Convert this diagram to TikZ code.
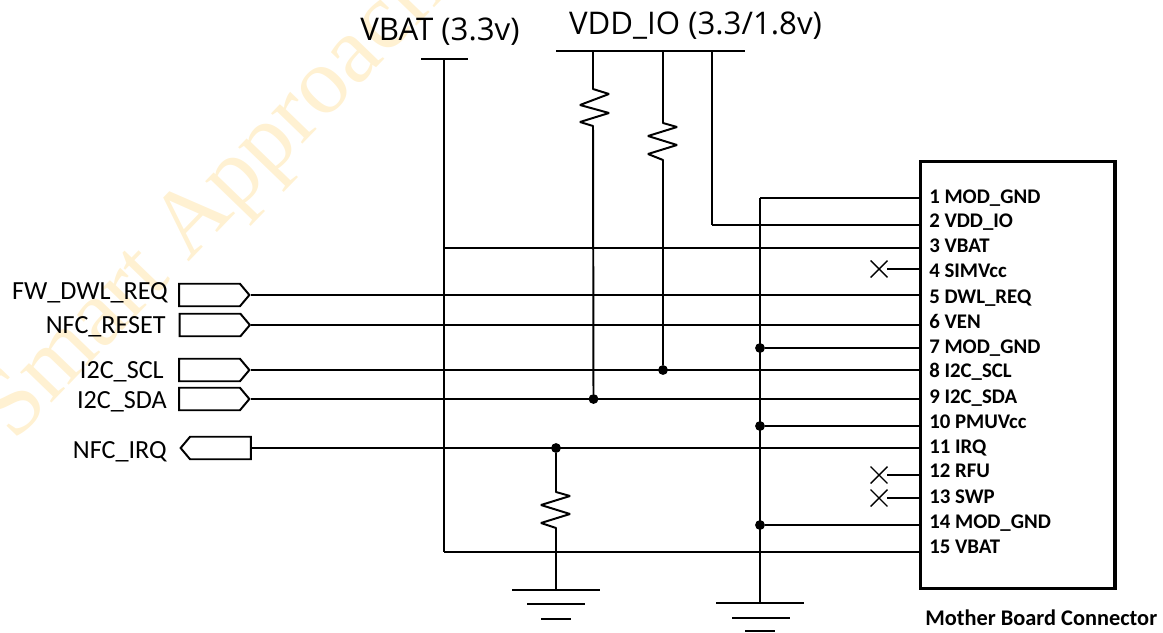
\documentclass[tikz,border=0pt]{standalone}
\usepackage{fontspec}
\setmainfont{Carlito}
\newfontfamily\railfont{Open Sans}
\newfontfamily\markfont{Liberation Serif}
\usetikzlibrary{shapes.symbols,shapes.misc}
\definecolor{markorange}{HTML}{FFF1D2}
\tikzset{
    wire/.style={line width=1.4pt},
    dot/.style={circle,fill=black,inner sep=0pt,minimum size=7pt},
    nc/.style={cross out,draw,line width=1pt,inner sep=0pt,minimum size=11pt},
    outsig/.style={signal,signal to=east,signal pointer angle=100,draw,line width=1.4pt,inner sep=0pt,minimum width=50pt,minimum height=16pt},
    insig/.style={outsig,signal to=west},
    siglabel/.style={anchor=east,font=\fontsize{18.6}{20}\selectfont},
    pinlabel/.style={anchor=base west,font=\fontsize{14.8}{16}\selectfont\bfseries},
    railbar/.style={line width=1.6pt},
    railname/.style={font=\railfont\fontsize{22.2}{25}\selectfont},
}
\begin{document}
\begin{tikzpicture}[x=0.025cm,y=-0.025cm]
    \useasboundingbox (0,0) rectangle (1163,632);
    \begin{scope}
        \clip (0,0) rectangle (1163,632);
        \node[rotate=46,anchor=base west,text=markorange,inner sep=0pt,font=\markfont\fontsize{67.5}{75}\selectfont] (watermark) at (14,443) {Smart Approach};
    \end{scope}

    \node[draw,line width=2.4pt,anchor=north west,inner sep=0pt,minimum width=138.5pt,minimum height=304pt] (conn) at (918.5,159.5) {};
    \node[anchor=west,font=\fontsize{15.9}{18}\selectfont\bfseries,inner sep=0pt] (connname) at (925,618) {Mother Board Connector};
    \foreach \n/\lab/\ty/\wy in {1/MOD\_GND/203/198,2/VDD\_IO/227/225,3/VBAT/252/248,4/SIMVcc/277/269,5/DWL\_REQ/303/295,6/VEN/328/325,7/MOD\_GND/353/348,8/I2C\_SCL/377/370,9/I2C\_SDA/403/399,10/PMUVcc/428/426,11/IRQ/453/448,12/RFU/477/475,13/SWP/503/498,14/MOD\_GND/528/525,15/VBAT/553/552} {
        \node[pinlabel,inner sep=0pt] (pin\n) at (929,\ty) {\n\ \lab};
        \coordinate (w\n) at (919,\wy);
    }

    \node[railname] (vbatname) at (440,32) {VBAT (3.3v)};
    \node[railname] (vddname) at (695.5,26) {VDD\_IO (3.3/1.8v)};
    \coordinate (vbatl) at (421,59);
    \coordinate (vbatr) at (468,59);
    \coordinate (vbattop) at (444,59);
    \coordinate (vbatbot) at (444,552);
    \coordinate (vddl) at (556,51);
    \coordinate (vddr) at (745,51);
    \coordinate (vddtop) at (712,51);
    \coordinate (vddbend) at (712,225);
    \path[railbar] (vbatl) edge (vbatr);
    \path[railbar] (vddl) edge (vddr);

    \node[outsig] (fwdwl) at (209.5,295) {};
    \node[outsig] (nfcreset) at (210,325) {};
    \node[outsig] (iicscl) at (209.5,370) {};
    \node[outsig] (iicsda) at (209.5,399) {};
    \node[insig] (nfcirq) at (220.5,448) {};
    \node[siglabel,inner sep=0pt] (fwdwlname) at (168,293) {FW\_DWL\_REQ};
    \node[siglabel,inner sep=0pt] (nfcresetname) at (166,327) {NFC\_RESET};
    \node[siglabel,inner sep=0pt] (iicsclname) at (164,372) {I2C\_SCL};
    \node[siglabel,inner sep=0pt] (iicsdaname) at (167,402) {I2C\_SDA};
    \node[siglabel,inner sep=0pt] (nfcirqname) at (167,452) {NFC\_IRQ};

    \node[dot] (jsda) at (593.5,399) {};
    \node[dot] (jscl) at (663,370) {};
    \node[dot] (jirq) at (556,448) {};
    \node[dot] (jgnd7) at (760,348) {};
    \node[dot] (jgnd10) at (760,426) {};
    \node[dot] (jgnd14) at (760,525) {};
    \node[nc] (nc4) at (879,269) {};
    \node[nc] (nc12) at (879,475) {};
    \node[nc] (nc13) at (879,498) {};

    \path[wire] (vbattop) edge (vbatbot);
    \path[wire] (vbattop |- w3) edge (w3);
    \path[wire] (vbatbot) edge (w15);
    \path[wire] (vddtop) edge (vddbend);
    \path[wire] (vddbend) edge (w2);
    \path[wire] (fwdwl.east) edge (w5);
    \path[wire] (nfcreset.east) edge (w6);
    \path[wire] (iicscl.east) edge (w8);
    \path[wire] (iicsda.east) edge (w9);
    \path[wire] (nfcirq.east) edge (w11);
    \path[wire] (nc4) edge (w4);
    \path[wire] (nc12) edge (w12);
    \path[wire] (nc13) edge (w13);

    \coordinate (gndtop) at (760,198);
    \coordinate (gndbot) at (760,603);
    \path[wire] (gndtop) edge (w1);
    \path[wire] (gndtop) edge (gndbot);
    \path[wire] (jgnd7) edge (w7);
    \path[wire] (jgnd10) edge (w10);
    \path[wire] (jgnd14) edge (w14);
    \coordinate (ga1) at (716,603);
    \coordinate (ga2) at (804,603);
    \coordinate (gb1) at (732,618);
    \coordinate (gb2) at (790,618);
    \coordinate (gc1) at (745,631);
    \coordinate (gc2) at (775,631);
    \path[railbar] (ga1) edge (ga2);
    \path[railbar] (gb1) edge (gb2);
    \path[railbar] (gc1) edge (gc2);

    \coordinate (gnda) at (556,590);
    \coordinate (ha1) at (512,590);
    \coordinate (ha2) at (600,590);
    \coordinate (hb1) at (527,604);
    \coordinate (hb2) at (585,604);
    \coordinate (hc1) at (541,619);
    \coordinate (hc2) at (571,619);
    \path[railbar] (ha1) edge (ha2);
    \path[railbar] (hb1) edge (hb2);
    \path[railbar] (hc1) edge (hc2);

    \draw[wire,line join=bevel] (593,51) -- (593,89) -- (609,94) -- (580,105) -- (609,113) -- (580,122) -- (593,126) -- (jsda);
    \draw[wire,line join=bevel] (663,51) -- (663,123) -- (677,127) -- (648,136) -- (677,145) -- (648,154) -- (663,160) -- (jscl);
    \draw[wire,line join=bevel] (jirq) -- (556,492) -- (570,496) -- (541,505) -- (570,514) -- (541,523) -- (556,528) -- (gnda);
\end{tikzpicture}
\end{document}
